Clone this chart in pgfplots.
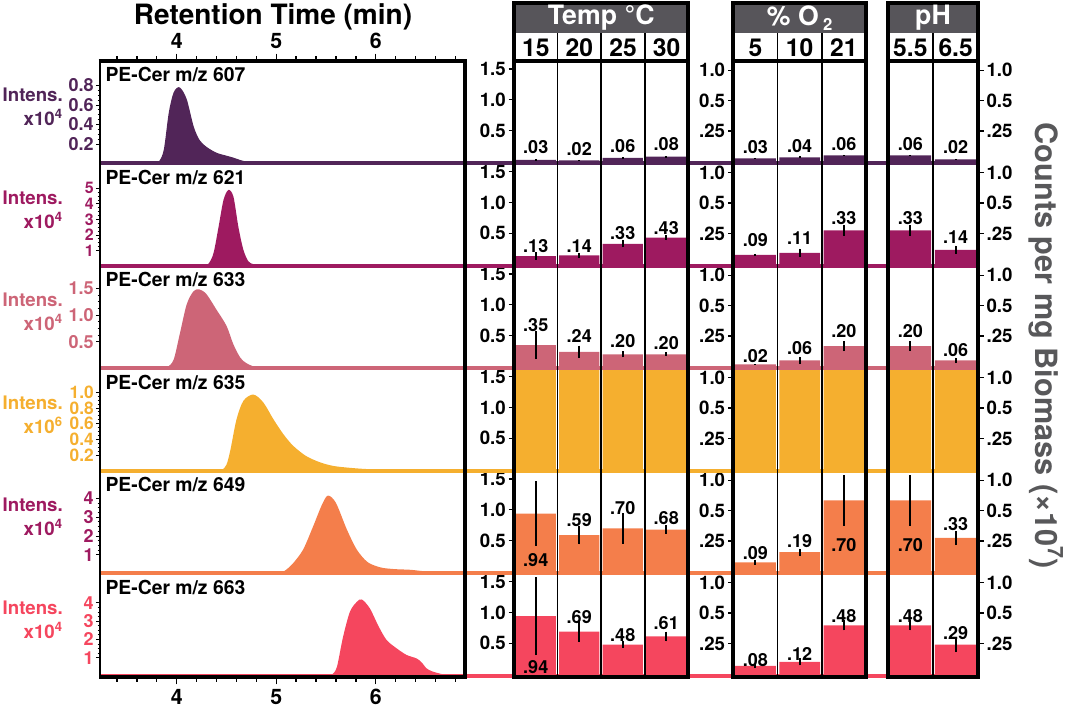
\documentclass[border=0pt]{standalone}
\usepackage{pgfplots}
\pgfplotsset{compat=1.18}
\usepackage{fontspec}
\setmainfont{TeX Gyre Heros}
\newcommand\F[1]{\fontsize{#1}{#1}\selectfont\bfseries}
\definecolor{cA}{HTML}{512558}
\definecolor{cB}{HTML}{9E1A60}
\definecolor{cC}{HTML}{CD6577}
\definecolor{cD}{HTML}{F5AF2F}
\definecolor{cE}{HTML}{F47E4B}
\definecolor{cF}{HTML}{F5465E}
\definecolor{hdr}{HTML}{57555A}
\definecolor{lab}{HTML}{58585A}
\pgfplotsset{
  chrom/.style={scale only axis, anchor=south west, width=273.75pt, height=76.875pt,
    xmin=3.229, xmax=6.897, ymin=0, xtick=\empty, axis line style={draw=none},
    tick align=outside, ytick pos=left, major tick length=3pt, minor tick length=1.8pt,
    tick style={black, line width=0.6pt}, minor y tick num=3,
    yticklabel style={font=\F{13.5}, inner sep=0pt, xshift=-1.5pt},
    clip mode=individual},
  barax/.style={scale only axis, anchor=south west, height=76.875pt, xmin=-0.5,
    xtick=\empty, axis line style={draw=none}, tick align=outside, major tick length=4pt,
    tick style={black, line width=0.9pt}, yticklabel style={font=\F{14}, inner sep=2pt},
    clip=false},
  tempax/.style={barax, width=130.5pt, xmax=3.5, ymin=-0.03, ymax=1.63, ytick={0.5,1,1.5}, yticklabels={0.5,1.0,1.5}, ytick pos=left},
  oxax/.style={barax, width=99.5pt, xmax=2.5, ymin=-0.02, ymax=0.99, ytick={0.3,0.6,0.9}, yticklabels={.25,0.5,1.0}, ytick pos=left},
  phax/.style={barax, width=67.95pt, xmax=1.5, ymin=-0.02, ymax=0.99, ytick={0.3,0.6,0.9}, yticklabels={.25,0.5,1.0}, ytick pos=right},
  bars/.style={ybar, bar width=0.92, bar shift=0pt, fill=#1, draw=none,
    /pgfplots/error bars/y dir=both, /pgfplots/error bars/y explicit,
    /pgfplots/error bars/error mark=none,
    /pgfplots/error bars/error bar style={line width=1.5pt, black}},
  vals/.style={draw=none, mark=none, nodes near coords, point meta=explicit symbolic,
    every node near coord/.style={anchor=center, font=\F{13.5}, text=black, inner sep=0pt}},
  xtax/.style={scale only axis, anchor=south west, at={(75pt,22.5pt)}, width=273.75pt, height=462pt,
    xmin=3.229, xmax=6.897, ymin=0, ymax=1, ytick=\empty, xtick={4,5,6}, xticklabels={4,5,6},
    minor xtick={3.4,3.6,3.8,4.2,4.4,4.6,4.8,5.2,5.4,5.6,5.8,6.2,6.4,6.6,6.8},
    tick align=outside, major tick length=5.5pt, minor tick length=3.5pt,
    tick style={black, line width=1pt}, axis line style={draw=none},
    xticklabel style={font=\F{16}}},
}
\begin{document}
\begin{tikzpicture}
\path (0,0) rectangle (798.75pt,530.25pt);

% ---------- x tick axes of the chromatogram panel ----------
\begin{axis}[xtax, xtick pos=bottom]
\end{axis}
\begin{axis}[xtax, xtick pos=top]
\end{axis}

% ---------- chromatograms ----------
\begin{axis}[chrom, at={(75pt,407.625pt)}, ymax=1.05, ytick={0.2,0.4,0.6,0.8}, yticklabels={0.2,0.4,0.6,0.8}, yticklabel style={text=cA}]
\addplot[fill=cA, draw=none, smooth] coordinates {(3.23,0)(3.5,0)(3.7,0)(3.76,0)(3.82,0.02)(3.87,0.14)(3.92,0.52)(3.97,0.73)(4.03,0.78)(4.10,0.66)(4.17,0.38)(4.23,0.24)(4.30,0.17)(4.40,0.11)(4.50,0.08)(4.57,0.06)(4.64,0.035)(4.70,0.02)(4.80,0.008)(4.9,0.008)(5.0,0.012)(5.1,0.02)(5.2,0.025)(5.3,0.02)(5.4,0.015)(5.5,0.02)(5.6,0.015)(5.7,0.01)(5.9,0.008)(6.1,0.008)(6.3,0.01)(6.5,0.008)(6.7,0.005)(6.88,0)} \closedcycle;
\node[anchor=north west, inner sep=0pt, xshift=4pt, yshift=-4.5pt, font=\F{14.5}] at (rel axis cs:0,1) {PE-Cer m/z 607};
\node[anchor=east, align=right, inner sep=0pt, text=cA, font=\F{14}, xshift=-27.75pt] at (rel axis cs:0,0.55) {Intens.\\[4pt]x10\textsuperscript{4}};
\end{axis}

\begin{axis}[chrom, at={(75pt,330.75pt)}, ymax=6.6, ytick={1,2,3,4,5}, yticklabels={1,2,3,4,5}, yticklabel style={text=cB, font=\F{12}}]
\addplot[fill=cB, draw=none, smooth] coordinates {(3.23,0)(3.6,0)(4.0,0)(4.20,0)(4.27,0)(4.32,0.15)(4.37,0.83)(4.42,2.5)(4.47,4.25)(4.52,4.9)(4.57,4.46)(4.62,2.5)(4.67,1.04)(4.72,0.3)(4.77,0.12)(4.83,0.06)(4.90,0.02)(4.97,0)(5.3,0)(6.0,0)(6.88,0)} \closedcycle;
\node[anchor=north west, inner sep=0pt, xshift=4pt, yshift=-4.5pt, font=\F{14.5}] at (rel axis cs:0,1) {PE-Cer m/z 621};
\node[anchor=east, align=right, inner sep=0pt, text=cB, font=\F{14}, xshift=-27.75pt] at (rel axis cs:0,0.55) {Intens.\\[4pt]x10\textsuperscript{4}};
\end{axis}

\begin{axis}[chrom, at={(75pt,253.875pt)}, ymax=1.92, ytick={0.5,1,1.5}, yticklabels={0.5,1.0,1.5}, yticklabel style={text=cC}]
\addplot[fill=cC, draw=none, smooth] coordinates {(3.23,0)(3.5,0)(3.75,0)(3.85,0)(3.91,0.03)(3.97,0.17)(4.03,0.64)(4.10,1.2)(4.17,1.45)(4.23,1.48)(4.30,1.39)(4.40,1.1)(4.50,0.8)(4.57,0.45)(4.64,0.2)(4.70,0.1)(4.77,0.04)(4.85,0.01)(4.95,0)(5.3,0)(6.0,0)(6.88,0)} \closedcycle;
\node[anchor=north west, inner sep=0pt, xshift=4pt, yshift=-4.5pt, font=\F{14.5}] at (rel axis cs:0,1) {PE-Cer m/z 633};
\node[anchor=east, align=right, inner sep=0pt, text=cC, font=\F{14}, xshift=-27.75pt] at (rel axis cs:0,0.55) {Intens.\\[4pt]x10\textsuperscript{4}};
\end{axis}

\begin{axis}[chrom, at={(75pt,177pt)}, ymax=1.30, ytick={0.2,0.4,0.6,0.8,1.0}, yticklabels={0.2,0.4,0.6,0.8,1.0}, yticklabel style={text=cD, font=\F{13}}]
\addplot[fill=cD, draw=none, smooth] coordinates {(3.23,0)(3.7,0)(4.2,0)(4.38,0)(4.45,0.01)(4.50,0.08)(4.54,0.27)(4.60,0.65)(4.67,0.89)(4.77,0.97)(4.87,0.87)(4.97,0.66)(5.07,0.47)(5.17,0.32)(5.30,0.19)(5.44,0.11)(5.57,0.065)(5.70,0.045)(5.84,0.03)(5.95,0.022)(6.07,0.015)(6.2,0.008)(6.4,0.002)(6.6,0)(6.88,0)} \closedcycle;
\node[anchor=north west, inner sep=0pt, xshift=4pt, yshift=-4.5pt, font=\F{14.5}] at (rel axis cs:0,1) {PE-Cer m/z 635};
\node[anchor=east, align=right, inner sep=0pt, text=cD, font=\F{14}, xshift=-27.75pt] at (rel axis cs:0,0.55) {Intens.\\[4pt]x10\textsuperscript{6}};
\end{axis}

\begin{axis}[chrom, at={(75pt,100.125pt)}, ymax=5.46, ytick={1,2,3,4}, yticklabels={1,2,3,4}, yticklabel style={text=cB}]
\addplot[fill=cE, draw=none, smooth] coordinates {(3.23,0)(3.8,0)(4.3,0)(4.42,0)(4.49,0.05)(4.56,0)(4.7,0)(4.9,0)(5.0,0)(5.05,0.05)(5.10,0.2)(5.17,0.55)(5.27,1.27)(5.37,2.5)(5.46,3.67)(5.52,4.15)(5.60,3.76)(5.71,2.34)(5.81,1.27)(5.91,0.64)(6.0,0.4)(6.08,0.29)(6.2,0.23)(6.34,0.2)(6.45,0.14)(6.55,0.08)(6.63,0.04)(6.70,0.02)(6.80,0.005)(6.88,0)} \closedcycle;
\node[anchor=north west, inner sep=0pt, xshift=4pt, yshift=-4.5pt, font=\F{14.5}] at (rel axis cs:0,1) {PE-Cer m/z 649};
\node[anchor=east, align=right, inner sep=0pt, text=cB, font=\F{14}, xshift=-27.75pt] at (rel axis cs:0,0.55) {Intens.\\[4pt]x10\textsuperscript{4}};
\end{axis}

\begin{axis}[chrom, at={(75pt,23.25pt)}, ymax=5.6, ytick={1,2,3,4}, yticklabels={1,2,3,4}, yticklabel style={text=cF}]
\addplot[fill=cF, draw=none, smooth] coordinates {(3.23,0)(4.0,0)(5.0,0)(5.35,0)(5.50,0)(5.56,0.08)(5.61,0.5)(5.67,2.1)(5.74,3.5)(5.81,4.05)(5.86,4.18)(5.94,3.7)(6.03,2.7)(6.11,1.96)(6.21,1.51)(6.31,1.15)(6.41,0.96)(6.46,0.75)(6.51,0.42)(6.56,0.27)(6.61,0.18)(6.71,0.05)(6.80,0)(6.88,0)} \closedcycle;
\node[anchor=north west, inner sep=0pt, xshift=4pt, yshift=-4.5pt, font=\F{14.5}] at (rel axis cs:0,1) {PE-Cer m/z 663};
\node[anchor=east, align=right, inner sep=0pt, text=cF, font=\F{14}, xshift=-27.75pt] at (rel axis cs:0,0.55) {Intens.\\[4pt]x10\textsuperscript{4}};
\end{axis}

% ---------- Row 1 bars ----------
\begin{axis}[tempax, at={(385.5pt,407.625pt)}]
\addplot[bars=cA] table[x=x,y=y,y error=e,row sep=\\]{x y e\\ 0 0.03 0.01\\ 1 0.02 0.01\\ 2 0.06 0.01\\ 3 0.08 0.01\\};
\addplot[vals] table[x=x,y=y,meta=l,row sep=\\]{x y l\\ 0 0.234 .03\\ 1 0.208 .02\\ 2 0.251 .06\\ 3 0.277 .08\\};
\end{axis}
\begin{axis}[oxax, at={(550pt,407.625pt)}]
\addplot[bars=cA] table[x=x,y=y,y error=e,row sep=\\]{x y e\\ 0 0.03 0.005\\ 1 0.04 0.01\\ 2 0.06 0.005\\};
\addplot[vals] table[x=x,y=y,meta=l,row sep=\\]{x y l\\ 0 0.14 .03\\ 1 0.15 .04\\ 2 0.167 .06\\};
\end{axis}
\begin{axis}[phax, at={(665.8pt,407.625pt)}]
\addplot[bars=cA] table[x=x,y=y,y error=e,row sep=\\]{x y e\\ 0 0.06 0.005\\ 1 0.02 0.005\\};
\addplot[vals] table[x=x,y=y,meta=l,row sep=\\]{x y l\\ 0 0.167 .06\\ 1 0.14 .02\\};
\end{axis}

% ---------- Row 2 bars ----------
\begin{axis}[tempax, at={(385.5pt,330.75pt)}]
\addplot[bars=cB] table[x=x,y=y,y error=e,row sep=\\]{x y e\\ 0 0.13 0.06\\ 1 0.14 0.035\\ 2 0.33 0.06\\ 3 0.43 0.04\\};
\addplot[vals] table[x=x,y=y,meta=l,row sep=\\]{x y l\\ 0 0.294 .13\\ 1 0.294 .14\\ 2 0.50 .33\\ 3 0.58 .43\\};
\end{axis}
\begin{axis}[oxax, at={(550pt,330.75pt)}]
\addplot[bars=cB] table[x=x,y=y,y error=e,row sep=\\]{x y e\\ 0 0.09 0.01\\ 1 0.11 0.04\\ 2 0.33 0.05\\};
\addplot[vals] table[x=x,y=y,meta=l,row sep=\\]{x y l\\ 0 0.236 .09\\ 1 0.252 .11\\ 2 0.449 .33\\};
\end{axis}
\begin{axis}[phax, at={(665.8pt,330.75pt)}]
\addplot[bars=cB] table[x=x,y=y,y error=e,row sep=\\]{x y e\\ 0 0.33 0.05\\ 1 0.14 0.04\\};
\addplot[vals] table[x=x,y=y,meta=l,row sep=\\]{x y l\\ 0 0.449 .33\\ 1 0.262 .14\\};
\end{axis}

% ---------- Row 3 bars ----------
\begin{axis}[tempax, at={(385.5pt,253.875pt)}]
\addplot[bars=cC] table[x=x,y=y,y error=e,row sep=\\]{x y e\\ 0 0.35 0.23\\ 1 0.24 0.10\\ 2 0.20 0.05\\ 3 0.20 0.03\\};
\addplot[vals] table[x=x,y=y,meta=l,row sep=\\]{x y l\\ 0 0.667 .35\\ 1 0.489 .24\\ 2 0.413 .20\\ 3 0.38 .20\\};
\end{axis}
\begin{axis}[oxax, at={(550pt,253.875pt)}]
\addplot[bars=cC] table[x=x,y=y,y error=e,row sep=\\]{x y e\\ 0 0.02 0.005\\ 1 0.06 0.036\\ 2 0.20 0.05\\};
\addplot[vals] table[x=x,y=y,meta=l,row sep=\\]{x y l\\ 0 0.098 .02\\ 1 0.183 .06\\ 2 0.347 .20\\};
\end{axis}
\begin{axis}[phax, at={(665.8pt,253.875pt)}]
\addplot[bars=cC] table[x=x,y=y,y error=e,row sep=\\]{x y e\\ 0 0.20 0.05\\ 1 0.06 0.026\\};
\addplot[vals] table[x=x,y=y,meta=l,row sep=\\]{x y l\\ 0 0.347 .20\\ 1 0.157 .06\\};
\end{axis}

% ---------- Row 4 bars (off scale) ----------
\begin{axis}[tempax, at={(385.5pt,177pt)}]
\addplot[bars=cD] table[x=x,y=y,row sep=\\]{x y\\ 0 1.63\\ 1 1.63\\ 2 1.63\\ 3 1.63\\};
\end{axis}
\begin{axis}[oxax, at={(550pt,177pt)}]
\addplot[bars=cD] table[x=x,y=y,row sep=\\]{x y\\ 0 0.99\\ 1 0.99\\ 2 0.99\\};
\end{axis}
\begin{axis}[phax, at={(665.8pt,177pt)}]
\addplot[bars=cD] table[x=x,y=y,row sep=\\]{x y\\ 0 0.99\\ 1 0.99\\};
\end{axis}

% ---------- Row 5 bars ----------
\begin{axis}[tempax, at={(385.5pt,100.125pt)}]
\addplot[bars=cE] table[x=x,y=y,y error=e,row sep=\\]{x y e\\ 0 0.94 0.52\\ 1 0.59 0.15\\ 2 0.70 0.25\\ 3 0.68 0.07\\};
\addplot[vals] table[x=x,y=y,meta=l,row sep=\\]{x y l\\ 0 0.18 .94\\ 1 0.839 .59\\ 2 1.034 .70\\ 3 0.872 .68\\};
\end{axis}
\begin{axis}[oxax, at={(550pt,100.125pt)}]
\addplot[bars=cE] table[x=x,y=y,y error=e,row sep=\\]{x y e\\ 0 0.09 0.025\\ 1 0.19 0.036\\ 2 0.70 0.25\\};
\addplot[vals] table[x=x,y=y,meta=l,row sep=\\]{x y l\\ 0 0.18 .09\\ 1 0.298 .19\\ 2 0.265 .70\\};
\end{axis}
\begin{axis}[phax, at={(665.8pt,100.125pt)}]
\addplot[bars=cE] table[x=x,y=y,y error=e,row sep=\\]{x y e\\ 0 0.70 0.25\\ 1 0.33 0.07\\};
\addplot[vals] table[x=x,y=y,meta=l,row sep=\\]{x y l\\ 0 0.265 .70\\ 1 0.469 .33\\};
\end{axis}

% ---------- Row 6 bars ----------
\begin{axis}[tempax, at={(385.5pt,23.25pt)}]
\addplot[bars=cF] table[x=x,y=y,y error=e,row sep=\\]{x y e\\ 0 0.94 0.63\\ 1 0.69 0.17\\ 2 0.48 0.05\\ 3 0.61 0.08\\};
\addplot[vals] table[x=x,y=y,meta=l,row sep=\\]{x y l\\ 0 0.12 .94\\ 1 0.92 .69\\ 2 0.634 .48\\ 3 0.824 .61\\};
\end{axis}
\begin{axis}[oxax, at={(550pt,23.25pt)}]
\addplot[bars=cF] table[x=x,y=y,y error=e,row sep=\\]{x y e\\ 0 0.08 0.02\\ 1 0.12 0.036\\ 2 0.48 0.05\\};
\addplot[vals] table[x=x,y=y,meta=l,row sep=\\]{x y l\\ 0 0.137 .08\\ 1 0.193 .12\\ 2 0.57 .48\\};
\end{axis}
\begin{axis}[phax, at={(665.8pt,23.25pt)}]
\addplot[bars=cF] table[x=x,y=y,y error=e,row sep=\\]{x y e\\ 0 0.48 0.05\\ 1 0.29 0.075\\};
\addplot[vals] table[x=x,y=y,meta=l,row sep=\\]{x y l\\ 0 0.57 .48\\ 1 0.406 .29\\};
\end{axis}

% ---------- decorations (pixel units, y measured upward) ----------
\begin{scope}[x=0.75pt, y=0.75pt]
\foreach \b/\c in {163.5/cA, 266/cB, 368.5/cC, 471/cD, 573.5/cE, 676/cF}
  \draw[color=\c, line width=3pt] (100,{707-\b}) -- (978.3,{707-\b});
% left panel frame
\draw[line width=1pt] (100,{707-61}) -- (100,{707-677});
\draw[line width=3pt] (98.5,{707-61}) -- (465,{707-61}) -- (465,{707-677}) -- (98.5,{707-677});
% Temp panel
\fill[hdr] (514,{707-3}) rectangle (688.3,{707-33.5});
\foreach \x in {557.6,601.15,644.7} \draw[line width=1.2pt] (\x,{707-33.5}) -- (\x,{707-677});
\draw[line width=3pt] (514,{707-61}) -- (688.3,{707-61});
\draw[line width=3pt] (514,{707-3}) rectangle (688.3,{707-677});
\node[text=white, font=\F{20}] at (601.15,{707-18}) {Temp °C};
\foreach \x/\t in {535.8/15, 579.4/20, 623.0/25, 666.5/30} \node[font=\F{18.5}] at (\x,{707-47.5}) {\t};
% O2 panel
\fill[hdr] (733.3,{707-3}) rectangle (866,{707-33.5});
\foreach \x in {777.5,821.8} \draw[line width=1.2pt] (\x,{707-33.5}) -- (\x,{707-677});
\draw[line width=3pt] (733.3,{707-61}) -- (866,{707-61});
\draw[line width=3pt] (733.3,{707-3}) rectangle (866,{707-677});
\node[text=white, font=\F{20}] at (799.7,{707-18}) {\% O\,\raisebox{-0.35ex}{\fontsize{12.5}{12.5}\selectfont 2}};
\foreach \x/\t in {755.4/5, 799.7/10, 843.9/21} \node[font=\F{18.5}] at (\x,{707-47.5}) {\t};
% pH panel
\fill[hdr] (887.7,{707-3}) rectangle (978.3,{707-33.5});
\draw[line width=1.2pt] (933,{707-33.5}) -- (933,{707-677});
\draw[line width=3pt] (887.7,{707-61}) -- (978.3,{707-61});
\draw[line width=3pt] (887.7,{707-3}) rectangle (978.3,{707-677});
\node[text=white, font=\F{20}] at (933,{707-18}) {pH};
\foreach \x/\t in {910.35/5.5, 955.65/6.5} \node[font=\F{18.5}] at (\x,{707-47.5}) {\t};
% titles
\node[font=\F{21}] at (273,{707-17}) {Retention Time (min)};
\node[rotate=-90, inner sep=0pt, text=lab, font=\F{23}] at (1046,{707-346}) {Counts per mg Biomass (×10\textsuperscript{7})};
\end{scope}
\pgfresetboundingbox
\path[use as bounding box] (0,0) rectangle (798.75pt,530.25pt);
\end{tikzpicture}
\end{document}
